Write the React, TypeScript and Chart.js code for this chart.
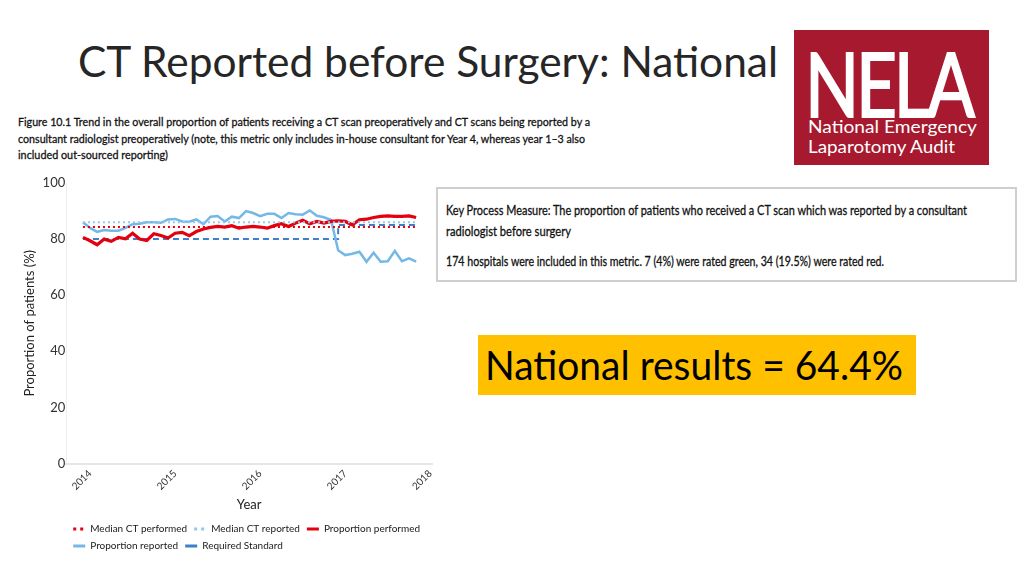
import React, { useEffect, useLayoutEffect, useRef } from 'react';
import { Chart, registerables } from 'chart.js';

Chart.register(...registerables);

// Monthly series, Dec 2013 .. Nov 2017 (48 months)
const proportionPerformed = [
  80.6, 79.4, 78.0, 80.0, 79.2, 80.6, 80.1, 82.1, 80.0, 79.5, 81.9, 81.3,
  80.4, 82.1, 82.4, 81.2, 82.7, 83.6, 84.2, 84.5, 84.3, 84.8, 83.9, 84.3,
  84.5, 84.3, 83.9, 84.8, 85.5, 84.5, 85.7, 86.7, 85.5, 86.3, 85.7, 86.3,
  86.5, 86.3, 85.1, 86.9, 87.1, 87.7, 88.1, 88.3, 88.1, 88.1, 88.3, 87.7,
];
const proportionReported = [
  86.0, 84.0, 82.6, 83.2, 83.0, 83.0, 84.0, 85.3, 85.5, 86.0, 86.0, 85.8,
  87.0, 87.2, 86.3, 86.2, 87.0, 85.3, 88.0, 88.2, 86.3, 88.0, 87.5, 90.0,
  89.3, 88.2, 89.0, 89.0, 87.5, 89.3, 88.9, 88.7, 90.2, 88.3, 87.8, 86.8,
  76.0, 74.3, 74.8, 75.5, 71.9, 75.1, 71.9, 72.1, 75.8, 72.1, 73.1, 72.0,
];
const requiredStandard = [
  80, 80, 80, 80, 80, 80, 80, 80, 80, 80, 80, 80,
  80, 80, 80, 80, 80, 80, 80, 80, 80, 80, 80, 80,
  80, 80, 80, 80, 80, 80, 80, 80, 80, 80, 80, 80,
  85, 85, 85, 85, 85, 85, 85, 85, 85, 85, 85, 85,
];
const medianCtPerformed = 84.3;
const medianCtReported = 86.0;
const yearTicks = [2014, 2015, 2016, 2017, 2018];
const seriesLabels = [
  'Median CT performed',
  'Median CT reported',
  'Proportion performed',
  'Proportion reported',
  'Required Standard',
];

const CHART_FONT = 'Lato, "Open Sans", sans-serif';
const SLIDE_FONT = 'Lato, "Open Sans", sans-serif';

const RED = '#e3000f';
const LIGHT_BLUE = '#74b8e7';
const DOT_BLUE = '#93c8ee';
const DARK_BLUE = '#3d80c9';

// month index -> decimal year (index 0 = December 2013)
const monthToYear = (i: number) => 2014 + (i - 1) / 12;

// A single line of text squeezed horizontally to a given width
function Fit({ width, style, children }: { width: number; style?: React.CSSProperties; children: React.ReactNode }) {
  const ref = useRef<HTMLSpanElement | null>(null);
  useLayoutEffect(() => {
    const el = ref.current;
    if (!el) return;
    el.style.transform = 'none';
    const w = el.getBoundingClientRect().width;
    if (w > 0) el.style.transform = `scaleX(${width / w})`;
  }, [width]);
  return (
    <div style={{ whiteSpace: 'nowrap', ...style }}>
      <span ref={ref} style={{ display: 'inline-block', transformOrigin: '0 0' }}>{children}</span>
    </div>
  );
}

function ChartPanel() {
  const ref = useRef<HTMLCanvasElement | null>(null);
  useEffect(() => {
    if (!ref.current) return;
    const pts = (vals: number[]) => vals.map((y, i) => ({ x: monthToYear(i), y }));
    const flat = (v: number) => proportionPerformed.map((_, i) => ({ x: monthToYear(i), y: v }));
    const legendDash: number[][] = [[3, 4], [3, 4], [], [], []];
    const chart = new Chart(ref.current, {
      type: 'line',
      data: {
        datasets: [
          { label: seriesLabels[0], data: flat(medianCtPerformed), borderColor: RED, backgroundColor: RED, borderWidth: 2, borderDash: [2, 3], pointRadius: 0 },
          { label: seriesLabels[1], data: flat(medianCtReported), borderColor: DOT_BLUE, backgroundColor: DOT_BLUE, borderWidth: 2, borderDash: [2, 3], pointRadius: 0 },
          { label: seriesLabels[2], data: pts(proportionPerformed), borderColor: RED, backgroundColor: RED, borderWidth: 3.2, pointRadius: 0 },
          { label: seriesLabels[3], data: pts(proportionReported), borderColor: LIGHT_BLUE, backgroundColor: LIGHT_BLUE, borderWidth: 2.5, pointRadius: 0 },
          { label: seriesLabels[4], data: pts(requiredStandard), borderColor: DARK_BLUE, backgroundColor: DARK_BLUE, borderWidth: 2, borderDash: [6, 4], pointRadius: 0, stepped: 'before' },
        ] as any,
      },
      options: {
        animation: false,
        responsive: true,
        maintainAspectRatio: false,
        layout: { padding: { top: 13, right: 16, left: 0, bottom: 0 } },
        plugins: {
          tooltip: { enabled: false },
          legend: {
            position: 'bottom',
            align: 'start',
            fullSize: false,
            labels: {
              usePointStyle: true,
              pointStyleWidth: 12,
              padding: 7,
              color: '#1a1a1a',
              font: { family: CHART_FONT, size: 10 },
              generateLabels: (c: any) =>
                c.data.datasets.map((ds: any, i: number) => ({
                  text: ds.label,
                  fillStyle: ds.borderColor,
                  strokeStyle: ds.borderColor,
                  lineWidth: 3,
                  lineDash: legendDash[i],
                  pointStyle: 'line',
                  datasetIndex: i,
                  hidden: false,
                  fontColor: '#1a1a1a',
                })),
            },
          },
        },
        scales: {
          x: {
            type: 'linear',
            min: 2013.72,
            max: 2018.02,
            afterBuildTicks: (scale: any) => {
              scale.ticks = yearTicks.map((v) => ({ value: v }));
            },
            ticks: {
              minRotation: 45,
              maxRotation: 45,
              color: '#333',
              font: { family: CHART_FONT, size: 10 },
              padding: 4,
              callback: (v: any) => String(v),
            },
            grid: { display: false, drawTicks: false },
            border: { display: true, color: '#e6e6e6', width: 2 },
            title: { display: true, text: 'Year', color: '#222', font: { family: CHART_FONT, size: 13 }, padding: { top: 1, bottom: 4 } },
          },
          y: {
            min: 0,
            max: 100,
            ticks: { stepSize: 20, color: '#333', font: { family: CHART_FONT, size: 13 }, padding: 1 },
            grid: { display: false, drawTicks: false },
            border: { display: true, color: '#eeeeee', width: 1 },
            title: { display: true, text: 'Proportion of patients (%)', color: '#222', font: { family: CHART_FONT, size: 13 }, padding: { top: 4, bottom: 4 } },
          },
        },
      } as any,
    });
    return () => chart.destroy();
  }, []);
  return (
    <div style={{ position: 'absolute', left: 18, top: 170, width: 430, height: 391 }}>
      <canvas ref={ref} />
    </div>
  );
}

export default function App() {
  useEffect(() => {
    document.body.style.margin = '0';
  }, []);
  const captionStyle: React.CSSProperties = { fontFamily: SLIDE_FONT, fontSize: 12, lineHeight: '16.6px', color: '#111', WebkitTextStroke: '0.3px #111' };
  const boxTextStyle: React.CSSProperties = { fontFamily: SLIDE_FONT, fontSize: 13, lineHeight: '21px', color: '#111', WebkitTextStroke: '0.3px #111' };
  return (
    <div style={{ position: 'fixed', left: 0, top: 0, width: 1024, height: 576, background: '#fff', overflow: 'hidden' }}>
      <div style={{ position: 'absolute', left: 78, top: 36 }}>
        <Fit width={700} style={{ fontFamily: SLIDE_FONT, fontSize: 42.5, lineHeight: '50px', color: '#262626' }}>
          CT Reported before Surgery: National
        </Fit>
      </div>

      <div style={{ position: 'absolute', left: 18, top: 114 }}>
        <Fit width={572} style={captionStyle}>Figure 10.1  Trend in the overall proportion of patients receiving a CT scan preoperatively and CT scans being reported by a</Fit>
        <Fit width={567} style={captionStyle}>consultant radiologist preoperatively (note, this metric only includes in-house consultant for Year 4, whereas year 1–3 also</Fit>
        <Fit width={150} style={captionStyle}>included out-sourced reporting)</Fit>
      </div>

      <ChartPanel />

      <div style={{ position: 'absolute', left: 794, top: 30, width: 195, height: 135, background: '#a6192e', color: '#fff', overflow: 'hidden' }}>
        <div style={{ position: 'absolute', left: 11, top: 2 }}>
          <Fit width={167} style={{ fontFamily: SLIDE_FONT, fontSize: 90, lineHeight: '100px', letterSpacing: -4, WebkitTextStroke: '2px #fff' }}>NELA</Fit>
        </div>
        <div style={{ position: 'absolute', left: 14, top: 86 }}>
          <Fit width={169} style={{ fontFamily: SLIDE_FONT, fontSize: 18, lineHeight: '20px' }}>National Emergency</Fit>
          <Fit width={147} style={{ fontFamily: SLIDE_FONT, fontSize: 18, lineHeight: '20px' }}>Laparotomy Audit</Fit>
        </div>
      </div>

      <div style={{ position: 'absolute', left: 436, top: 187, width: 577, height: 91, border: '2px solid #cfcfcf', background: '#fff' }}>
        <div style={{ position: 'absolute', left: 40 - 32, top: 11 }}>
          <Fit width={521} style={boxTextStyle}>Key Process Measure: The proportion of patients who received a CT scan which was reported by a consultant</Fit>
          <Fit width={125} style={boxTextStyle}>radiologist before surgery</Fit>
          <Fit width={438} style={{ ...boxTextStyle, marginTop: 9 }}>174 hospitals were included in this metric. 7 (4%) were rated green, 34 (19.5%) were rated red.</Fit>
        </div>
      </div>

      <div style={{ position: 'absolute', left: 478, top: 335, width: 438, height: 60, background: '#ffc000' }}>
        <div style={{ position: 'absolute', left: 7, top: 4 }}>
          <Fit width={418} style={{ fontFamily: SLIDE_FONT, fontSize: 41, lineHeight: '52px', color: '#000' }}>National results = 64.4%</Fit>
        </div>
      </div>
    </div>
  );
}
